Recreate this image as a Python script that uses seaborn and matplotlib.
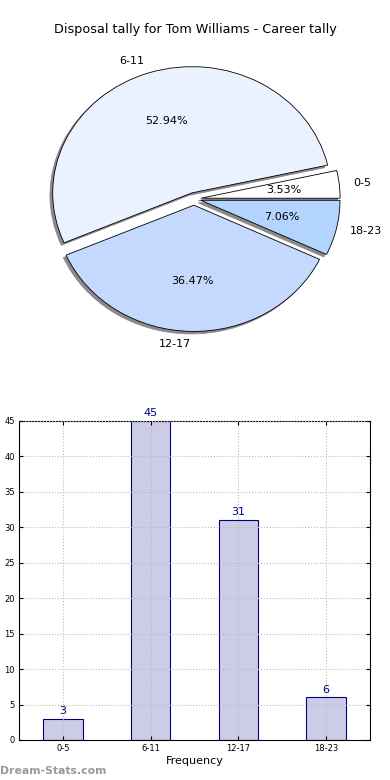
import matplotlib
matplotlib.use("Agg")
import matplotlib.pyplot as plt
import seaborn as sns
import pandas as pd

# data
groups = ['0-5', '6-11', '12-17', '18-23']
counts = [3, 45, 31, 6]
slice_colors = ['#FFFFFF', '#EBF2FF', '#C5D9FF', '#B3D4FF']
title = "Disposal tally for Tom Williams - Career tally"

sns.set_style("white")
plt.rcParams['font.family'] = ['DejaVu Sans']
plt.rcParams['text.color'] = 'black'
plt.rcParams['xtick.color'] = 'black'
plt.rcParams['ytick.color'] = 'black'
plt.rcParams['axes.labelcolor'] = 'black'

fig = plt.figure(figsize=(3.9, 7.8), dpi=100)

# pie
ax1 = fig.add_axes([0.105, 0.567, 0.785, 0.356])
wedges, texts, autotexts = ax1.pie(
    counts, labels=groups, colors=slice_colors, autopct='%1.2f%%',
    explode=[0.05] * 4,
    shadow={'ox': -0.014, 'oy': -0.014, 'facecolor': '#8A8A8A',
            'edgecolor': '#8A8A8A', 'alpha': 1.0},
    startangle=0, labeldistance=1.1,
    pctdistance=0.6, wedgeprops={'edgecolor': 'black', 'linewidth': 0.6},
    textprops={'fontsize': 8, 'color': 'black'})
ax1.set_aspect('auto')
ax1.set_xlim(-1.1, 1.1)
ax1.set_ylim(-1.1, 1.1)
fig.text(0.5, 0.962, title, ha='center', va='center', fontsize=9.2)

# bars
ax2 = fig.add_axes([0.0487, 0.0513, 0.9, 0.409])
df = pd.DataFrame({'group': groups, 'count': counts})
sns.barplot(data=df, x='group', y='count', ax=ax2, color='#CCCCE6',
            saturation=1, width=0.45, edgecolor='#000080', linewidth=0.8)
for i, v in enumerate(counts):
    ax2.text(i, v + 0.4, str(v), ha='center', va='bottom', color='#000080', fontsize=8)
ax2.set_xlim(-0.5, 3.5)
ax2.set_ylim(0, 45)
ax2.set_yticks(range(0, 46, 5))
ax2.set_ylabel('')
ax2.set_xlabel('Frequency', fontsize=8, labelpad=2)
ax2.tick_params(axis='both', labelsize=6, direction='in', length=3,
                top=True, right=True, bottom=True, left=True, pad=3)
ax2.grid(True, linestyle=':', color='#BBBBBB', linewidth=0.8)
ax2.set_axisbelow(False)
for s in ax2.spines.values():
    s.set_color('black')
    s.set_linewidth(0.8)
    s.set_visible(True)

fig.text(0.0, 0.012, 'Dream-Stats.com', color='#999999', fontsize=7.8,
         fontweight='bold', ha='left', va='center')

fig.savefig('out.png', dpi=100)
